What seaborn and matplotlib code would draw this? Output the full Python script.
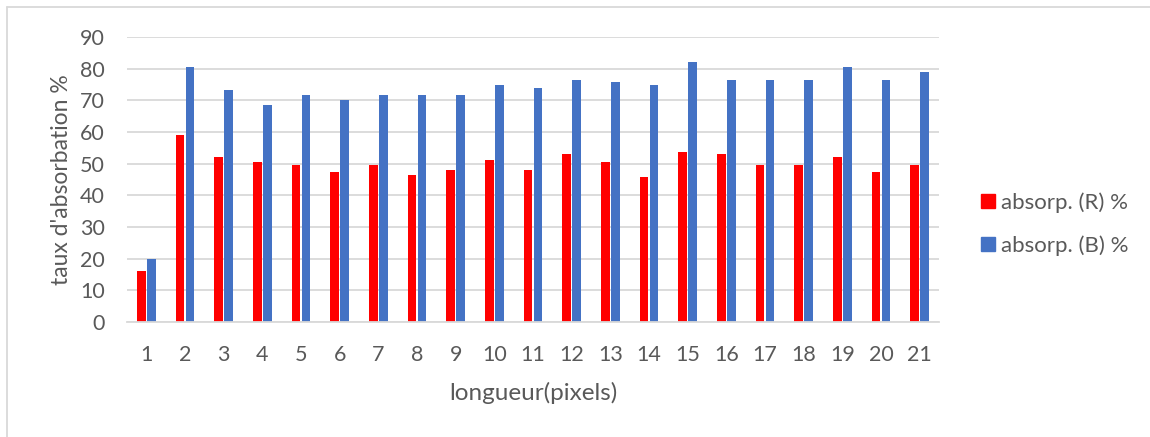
import matplotlib
matplotlib.use("Agg")
import matplotlib.pyplot as plt
from matplotlib.lines import Line2D
import pandas as pd
import seaborn as sns

# data
positions = [str(i) for i in range(1, 22)]
absorp_r = [16, 59, 52, 50.4, 49.7, 47.4, 49.7, 46.5, 48.1, 51.3, 48.1,
            52.9, 50.4, 45.8, 53.6, 52.9, 49.7, 49.7, 52, 47.4, 49.7]
absorp_b = [20, 80.4, 73.3, 68.5, 71.7, 70.1, 71.7, 71.7, 71.7, 74.8, 74,
            76.5, 75.7, 74.8, 82, 76.5, 76.5, 76.5, 80.4, 76.5, 78.8]
series_names = ["absorp. (R) %", "absorp. (B) %"]
colors = ["#FF0000", "#4472C4"]

df = pd.DataFrame({
    "longueur": positions * 2,
    "valeur": absorp_r + absorp_b,
    "serie": [series_names[0]] * len(positions) + [series_names[1]] * len(positions),
})

sns.set_style("white")
plt.rcParams["font.family"] = ["Lato", "DejaVu Sans"]
text_color = "#595959"
grid_color = "#D9D9D9"

fig = plt.figure(figsize=(11.5, 4.37), dpi=100)
ax = fig.add_axes([127 / 1150, 115 / 437, 812 / 1150, 285 / 437])

sns.barplot(data=df, x="longueur", y="valeur", hue="serie",
            palette=colors, saturation=1, width=0.52, gap=0.13,
            edgecolor="none", ax=ax, legend=False)

ax.set_ylim(0, 90)
ax.set_xlim(-0.5, len(positions) - 0.5)
ax.set_yticks(range(0, 91, 10))
ax.yaxis.grid(True, color=grid_color, linewidth=1.3)
ax.set_axisbelow(True)
for side in ["left", "right", "top"]:
    ax.spines[side].set_visible(False)
ax.spines["bottom"].set_color(grid_color)
ax.spines["bottom"].set_linewidth(1.3)

# tick marks between categories, labels centred
ax.set_xticks([i - 0.5 for i in range(len(positions) + 1)], minor=True)
ax.tick_params(axis="x", which="minor", length=6, width=1.3, color=grid_color, direction="out")
ax.tick_params(axis="x", which="major", length=0, pad=16.5, labelsize=15.5, labelcolor=text_color)
ax.tick_params(axis="y", length=0, pad=16, labelsize=15.5, labelcolor=text_color)

ax.set_xlabel("longueur(pixels)", fontsize=17.5, color=text_color)
ax.xaxis.set_label_coords(0.5, -0.21)
ax.xaxis.label.set_va("top")
ax.set_ylabel("taux d'absorbation %", fontsize=16.5, color=text_color, labelpad=6)

handles = [Line2D([0], [0], marker="s", linestyle="none", markersize=10,
                  markerfacecolor=c, markeredgecolor=c) for c in colors]
fig.legend(handles, series_names, loc="center left",
           bbox_to_anchor=(957 / 1150, 1 - 224 / 437), frameon=False,
           fontsize=16, labelcolor=text_color, handletextpad=0.1,
           labelspacing=1.0, handlelength=1.0)

# chart frame (left and top edges visible)
fig.add_artist(Line2D([7 / 1150, 7 / 1150], [0, 1 - 7 / 437], color=grid_color, linewidth=1.3))
fig.add_artist(Line2D([7 / 1150, 1], [1 - 7 / 437, 1 - 7 / 437], color=grid_color, linewidth=1.3))

fig.savefig("out.png", dpi=100)
